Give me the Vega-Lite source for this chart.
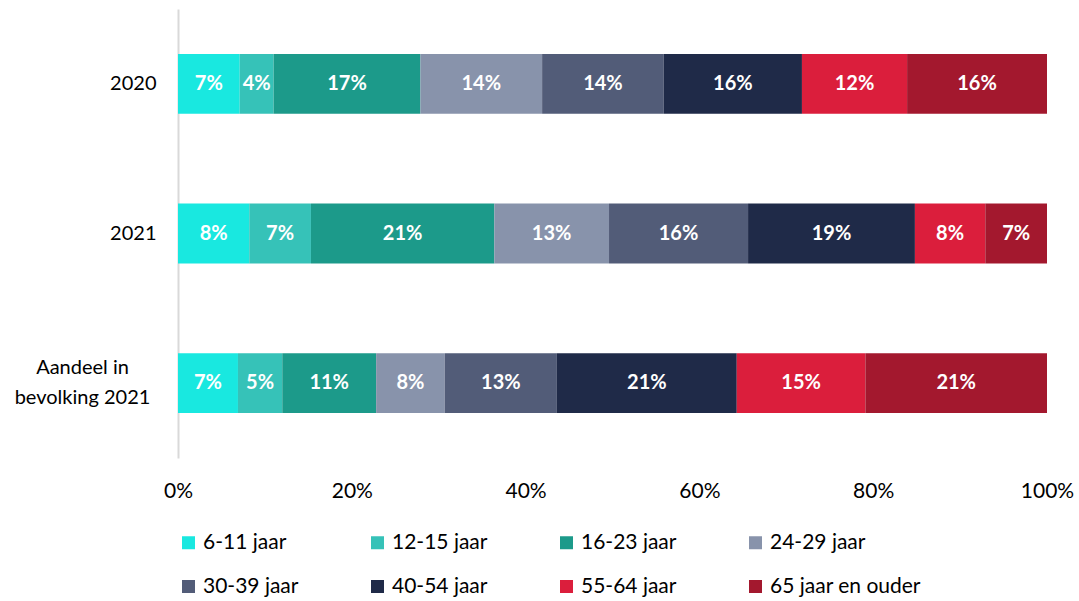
{
  "$schema": "https://vega.github.io/schema/vega-lite/v6.json",
  "autosize": {"type": "none"},
  "padding": {"left": 178, "top": 9, "right": 32, "bottom": 143},
  "width": 869,
  "height": 449,
  "config": {
    "font": "Lato",
    "view": {"stroke": null},
    "axis": {"labelFont": "Lato", "labelFontSize": 20, "labelColor": "#000000", "ticks": false, "grid": false},
    "legend": {"labelFont": "Lato", "labelFontSize": 21, "labelColor": "#000000"}
  },
  "data": {
    "values": [
      {"cat": "2020", "group": "6-11 jaar", "order": 1, "value": 7.1, "label": "7%"},
      {"cat": "2020", "group": "12-15 jaar", "order": 2, "value": 3.9, "label": "4%"},
      {"cat": "2020", "group": "16-23 jaar", "order": 3, "value": 16.9, "label": "17%"},
      {"cat": "2020", "group": "24-29 jaar", "order": 4, "value": 14.0, "label": "14%"},
      {"cat": "2020", "group": "30-39 jaar", "order": 5, "value": 14.0, "label": "14%"},
      {"cat": "2020", "group": "40-54 jaar", "order": 6, "value": 15.9, "label": "16%"},
      {"cat": "2020", "group": "55-64 jaar", "order": 7, "value": 12.1, "label": "12%"},
      {"cat": "2020", "group": "65 jaar en ouder", "order": 8, "value": 16.1, "label": "16%"},
      {"cat": "2021", "group": "6-11 jaar", "order": 1, "value": 8.2, "label": "8%"},
      {"cat": "2021", "group": "12-15 jaar", "order": 2, "value": 7.1, "label": "7%"},
      {"cat": "2021", "group": "16-23 jaar", "order": 3, "value": 21.1, "label": "21%"},
      {"cat": "2021", "group": "24-29 jaar", "order": 4, "value": 13.2, "label": "13%"},
      {"cat": "2021", "group": "30-39 jaar", "order": 5, "value": 16.0, "label": "16%"},
      {"cat": "2021", "group": "40-54 jaar", "order": 6, "value": 19.2, "label": "19%"},
      {"cat": "2021", "group": "55-64 jaar", "order": 7, "value": 8.1, "label": "8%"},
      {"cat": "2021", "group": "65 jaar en ouder", "order": 8, "value": 7.1, "label": "7%"},
      {"cat": "Aandeel in bevolking 2021", "group": "6-11 jaar", "order": 1, "value": 6.9, "label": "7%"},
      {"cat": "Aandeel in bevolking 2021", "group": "12-15 jaar", "order": 2, "value": 5.1, "label": "5%"},
      {"cat": "Aandeel in bevolking 2021", "group": "16-23 jaar", "order": 3, "value": 10.8, "label": "11%"},
      {"cat": "Aandeel in bevolking 2021", "group": "24-29 jaar", "order": 4, "value": 7.9, "label": "8%"},
      {"cat": "Aandeel in bevolking 2021", "group": "30-39 jaar", "order": 5, "value": 12.9, "label": "13%"},
      {"cat": "Aandeel in bevolking 2021", "group": "40-54 jaar", "order": 6, "value": 20.7, "label": "21%"},
      {"cat": "Aandeel in bevolking 2021", "group": "55-64 jaar", "order": 7, "value": 14.8, "label": "15%"},
      {"cat": "Aandeel in bevolking 2021", "group": "65 jaar en ouder", "order": 8, "value": 20.9, "label": "21%"}
    ]
  },
  "encoding": {
    "y": {
      "field": "cat", "type": "nominal", "title": null,
      "sort": ["2020", "2021", "Aandeel in bevolking 2021"],
      "scale": {"paddingInner": 0.6, "paddingOuter": 0.3},
      "axis": {
        "domainColor": "#d9d9d9", "domainWidth": 2, "labelLineHeight": 30,
        "labelPadding": {"expr": "datum.value == 'Aandeel in bevolking 2021' ? 96 : 22"},
        "labelAlign": {"expr": "datum.value == 'Aandeel in bevolking 2021' ? 'center' : 'right'"},
        "labelOffset": {"expr": "datum.value == 'Aandeel in bevolking 2021' ? -15 : 0"},
        "labelExpr": "datum.label == 'Aandeel in bevolking 2021' ? ['Aandeel in', 'bevolking 2021'] : datum.label"
      }
    },
    "x": {
      "field": "value", "type": "quantitative", "title": null, "stack": "normalize",
      "scale": {"domain": [0, 1], "nice": false},
      "axis": {"format": ".0%", "values": [0, 0.2, 0.4, 0.6, 0.8, 1], "domain": false, "labelPadding": 22, "labelFlush": false, "labelFontSize": 21}
    },
    "order": {"field": "order", "type": "quantitative", "sort": "ascending"}
  },
  "layer": [
    {
      "mark": {"type": "bar"},
      "encoding": {
        "color": {
          "field": "group", "type": "nominal",
          "sort": ["6-11 jaar", "12-15 jaar", "16-23 jaar", "24-29 jaar", "30-39 jaar", "40-54 jaar", "55-64 jaar", "65 jaar en ouder"],
          "scale": {
            "domain": ["6-11 jaar", "12-15 jaar", "16-23 jaar", "24-29 jaar", "30-39 jaar", "40-54 jaar", "55-64 jaar", "65 jaar en ouder"],
            "range": ["#19E8E0", "#36C2B8", "#1C9A8A", "#8893AB", "#525C78", "#1F2A48", "#DB1E3C", "#A3182E"]
          },
          "legend": {
            "title": null, "orient": "none", "legendX": 0, "legendY": 523, "direction": "horizontal",
            "columns": 4, "symbolType": "square", "symbolSize": 169, "symbolStrokeWidth": 0,
            "columnPadding": 68, "rowPadding": 22, "labelOffset": 4, "labelLimit": 300
          }
        }
      }
    },
    {
      "mark": {"type": "text", "color": "white", "fontWeight": "bold", "fontSize": 20, "font": "Lato", "baseline": "middle", "align": "center"},
      "encoding": {
        "x": {"field": "value", "type": "quantitative", "stack": "normalize", "bandPosition": 0.5},
        "detail": {"field": "group", "type": "nominal"},
        "text": {"field": "label"}
      }
    }
  ]
}
